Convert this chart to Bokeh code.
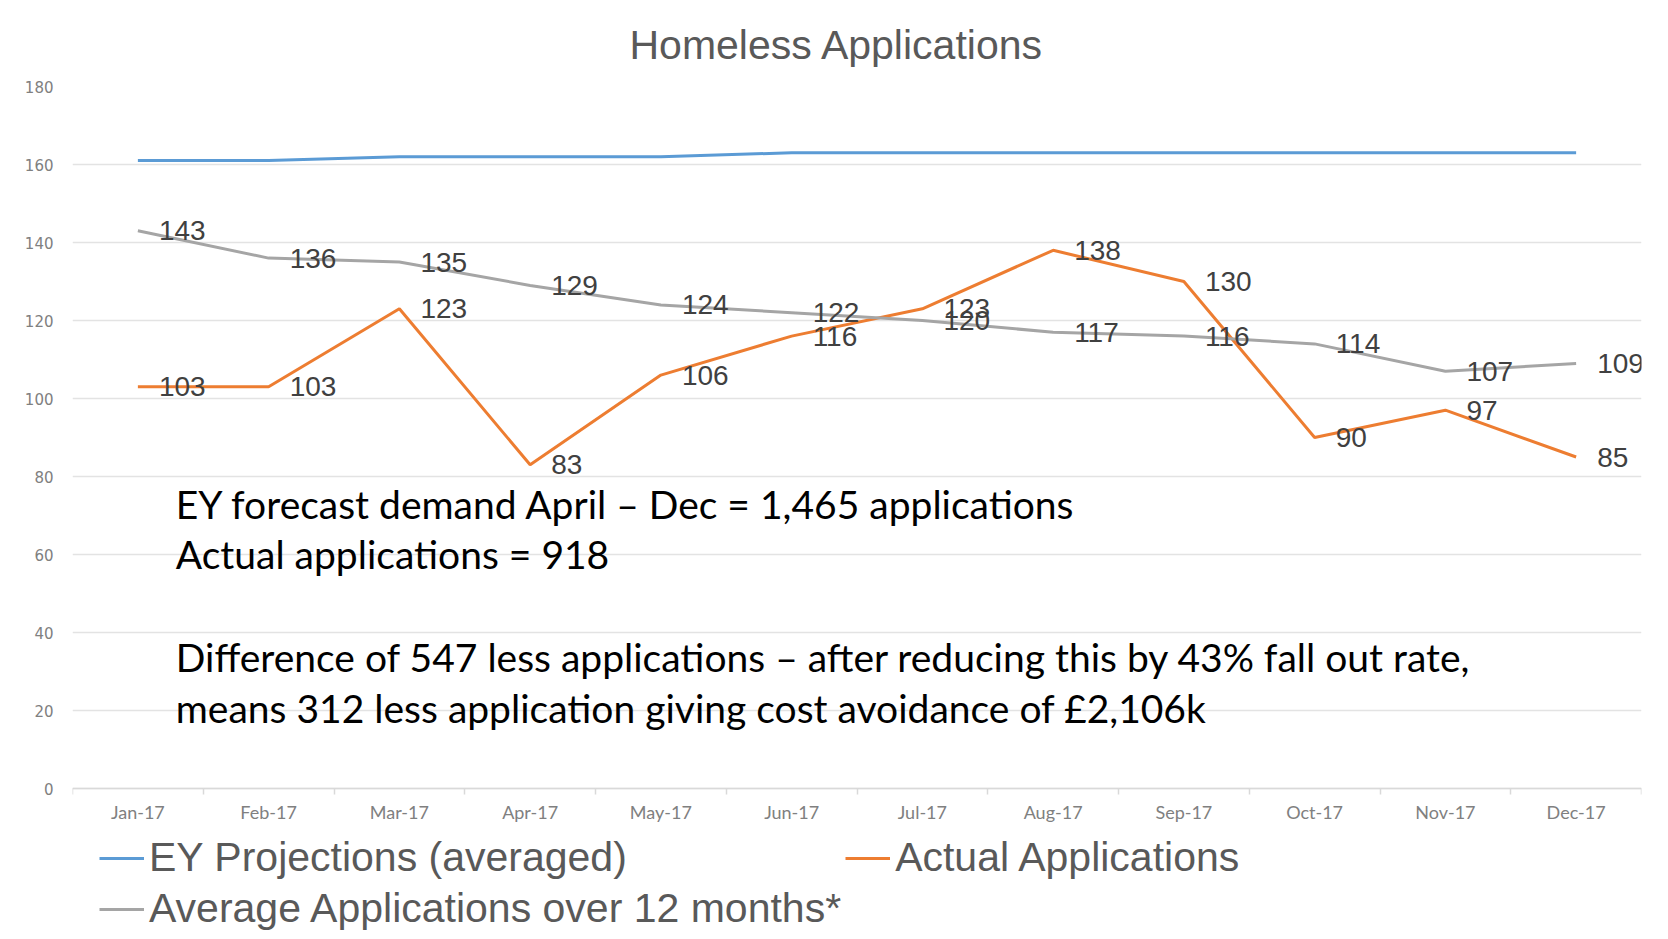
from bokeh.plotting import figure
from bokeh.models import (Range1d, FixedTicker, Legend, LegendItem, LinearAxis,
                          ColumnDataSource, Title)
from bokeh.core.properties import value
from bokeh.embed import file_html
from bokeh.resources import INLINE

# ---------------- data ----------------
months = ["Jan-17", "Feb-17", "Mar-17", "Apr-17", "May-17", "Jun-17",
          "Jul-17", "Aug-17", "Sep-17", "Oct-17", "Nov-17", "Dec-17"]
ey_projection = [161, 161, 162, 162, 162, 163, 163, 163, 163, 163, 163, 163]
actual_apps = [103, 103, 123, 83, 106, 116, 123, 138, 130, 90, 97, 85]
average_apps = [143, 136, 135, 129, 124, 122, 120, 117, 116, 114, 107, 109]
y_ticks = [0, 20, 40, 60, 80, 100, 120, 140, 160, 180]
notes = [
    "EY forecast demand April \u2013 Dec = 1,465 applications",
    "Actual applications = 918",
    "Difference of 547 less applications \u2013 after reducing this by 43% fall out rate,",
    "means 312 less application giving cost avoidance of \u00a32,106k",
]

# ---------------- layout ----------------
W, H = 1660, 935
TOP, ZERO_PX = 86, 788            # pixel rows of value 180 and value 0
px_per_unit = (ZERO_PX - TOP) / 180.0
y_low = -(H - ZERO_PX) / px_per_unit   # frame runs down to the bottom (legend area)

xs = [i + 0.5 for i in range(len(months))]
note_y = [73.0, 60.2, 33.8, 20.7]
note_x = [0.79] * len(notes)

src = ColumnDataSource(dict(
    x=xs, ey=ey_projection, act=actual_apps, avg=average_apps,
    act_lbl=[str(v) for v in actual_apps], avg_lbl=[str(v) for v in average_apps],
))

p = figure(width=W, height=H, output_backend="svg", toolbar_location=None,
           x_range=Range1d(0, len(months)), y_range=Range1d(y_low, 180),
           x_axis_location=None,
           min_border_left=72, min_border_right=19, min_border_top=TOP, min_border_bottom=0)
p.outline_line_color = None
p.background_fill_color = "white"
p.border_fill_color = "white"

# title
p.title = Title(text="Homeless Applications", align="left", text_font="Liberation Sans",
                text_font_size="41px", text_font_style="normal", text_color="#595959",
                standoff=38, offset=557)

# grid
p.xgrid.grid_line_color = None
p.ygrid.grid_line_color = "#e3e3e3"
p.ygrid.grid_line_width = 1.5

# y axis
p.yaxis.ticker = FixedTicker(ticks=y_ticks)
p.yaxis.axis_line_color = None
p.yaxis.major_tick_line_color = None
p.yaxis.minor_tick_line_color = None
p.yaxis.major_label_text_font = "DejaVu Sans"
p.yaxis.major_label_text_font_size = "15px"
p.yaxis.major_label_text_color = "#808080"
p.yaxis.major_label_standoff = 13
p.ygrid.ticker = FixedTicker(ticks=y_ticks)

# x axis drawn at value 0
xaxis = LinearAxis(fixed_location=0,
                   ticker=FixedTicker(ticks=xs, minor_ticks=list(range(len(months) + 1))),
                   major_label_overrides={x: m for x, m in zip(xs, months)})
xaxis.axis_line_color = "#d9d9d9"
xaxis.axis_line_width = 1.5
xaxis.major_tick_line_color = None
xaxis.major_tick_out = 0
xaxis.major_tick_in = 0
xaxis.minor_tick_line_color = "#d9d9d9"
xaxis.minor_tick_line_width = 1.5
xaxis.minor_tick_out = 6
xaxis.minor_tick_in = 0
xaxis.major_label_text_font = "Lato"
xaxis.major_label_text_font_size = "18px"
xaxis.major_label_text_color = "#808080"
xaxis.major_label_standoff = 6
p.add_layout(xaxis, "below")

# lines
r_ey = p.line("x", "ey", source=src, line_color="#5b9bd5", line_width=3)
r_act = p.line("x", "act", source=src, line_color="#ed7d31", line_width=3)
r_avg = p.line("x", "avg", source=src, line_color="#a5a5a5", line_width=3)

# data labels
for col in ("act_lbl", "avg_lbl"):
    ycol = "act" if col == "act_lbl" else "avg"
    p.text(x="x", y=ycol, text=col, source=src, x_offset=21, text_baseline="middle",
           text_align="left", text_font=value("Liberation Sans"), text_font_size="28px",
           text_color="#404040")

# notes
p.text(x=note_x, y=note_y, text=notes, text_baseline="middle", text_align="left",
       text_font=value("Lato"), text_font_size="39px", text_color="#000000")

# legend (inside the extended frame, under the axis)
legend = Legend(items=[
    LegendItem(label="EY Projections (averaged)", renderers=[r_ey]),
    LegendItem(label="Actual Applications", renderers=[r_act]),
    LegendItem(label="Average Applications over 12 months*", renderers=[r_avg]),
], orientation="horizontal", ncols=2, location=(27, 3),
    label_text_font="Liberation Sans", label_text_font_size="41px", label_text_color="#595959",
    glyph_width=45, glyph_height=20, label_standoff=5, spacing=4, padding=0, margin=0,
    border_line_color=None, background_fill_alpha=0)
p.add_layout(legend, "center")

open("out.html", "w").write(file_html(p, INLINE))
